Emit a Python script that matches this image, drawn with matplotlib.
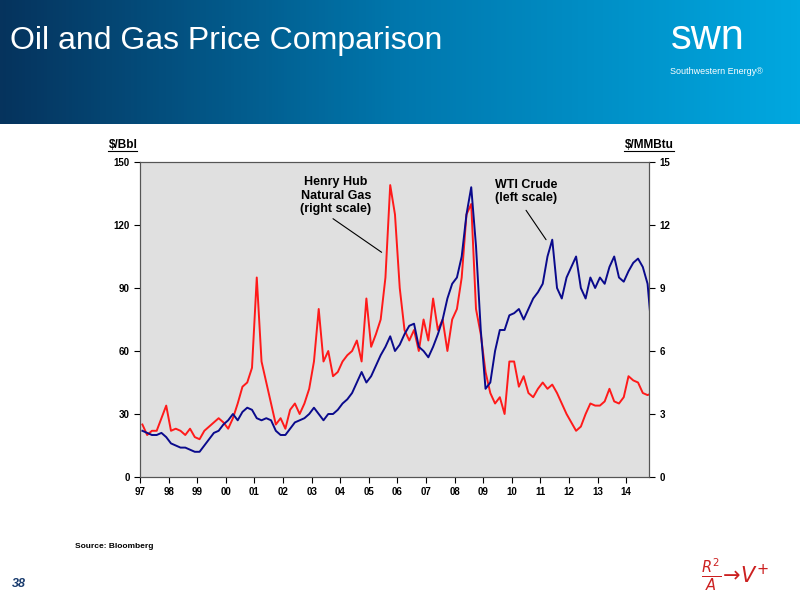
import numpy as np
import matplotlib
matplotlib.use("Agg")
import matplotlib.pyplot as plt
from matplotlib.colors import LinearSegmentedColormap

years = list(range(1997, 2015))
oil = [22,21,20,20,21,19, 16,15,14,14,13,12, 12,15,18,21,22,25,
       27,30,27,31,33,32, 28,27,28,27,22,20, 20,23,26,27,28,30,
       33,30,27,30,30,32, 35,37,40,45,50,45, 48,53,58,62,67,60,
       63,68,72,73,62,60, 57,62,68,75,85,92, 95,105,125,138,110,70,
       42,45,60,70,70,77, 78,80,75,80,85,88, 92,105,113,90,85,95,
       100,105,90,85,95,90, 95,92,100,105,95,93, 98,102,104,100,92,66]
gas = [2.5,2.0,2.2,2.2,2.8,3.4, 2.2,2.3,2.2,2.0,2.3,1.9, 1.8,2.2,2.4,2.6,2.8,2.6,
       2.3,2.8,3.5,4.3,4.5,5.2, 9.5,5.5,4.5,3.5,2.5,2.8, 2.3,3.2,3.5,3.0,3.5,4.2,
       5.5,8.0,5.5,6.0,4.8,5.0, 5.5,5.8,6.0,6.5,5.5,8.5, 6.2,6.8,7.5,9.5,13.9,12.5,
       9.0,7.0,6.5,7.0,6.0,7.5, 6.5,8.5,7.0,7.5,6.0,7.5, 8.0,9.5,12.5,13.0,8.0,6.8,
       5.0,4.0,3.5,3.8,3.0,5.5, 5.5,4.3,4.8,4.0,3.8,4.2, 4.5,4.2,4.4,4.0,3.5,3.0,
       2.6,2.2,2.4,3.0,3.5,3.4, 3.4,3.6,4.2,3.6,3.5,3.8, 4.8,4.6,4.5,4.0,3.9,4.0]
t = np.array([y + i / 6 + 1 / 12 for y in years for i in range(6)])
tick_labels = ["97","98","99","00","01","02","03","04","05","06","07","08","09","10","11","12","13","14"]

fig = plt.figure(figsize=(8, 6), dpi=100)
hax = fig.add_axes([0, 1 - 124/600, 1, 124/600])
cmap = LinearSegmentedColormap.from_list("h", ["#06335d", "#0077ad", "#00a8e0"])
hax.imshow(np.linspace(0, 1, 256)[None, :], aspect="auto", cmap=cmap, extent=[0, 1, 0, 1])
hax.set_axis_off()
fig.text(0.012, 1 - 41/600, "Oil and Gas Price Comparison", color="white", fontsize=23,
         family="Liberation Sans", va="center")
fig.text(0.838, 1 - 38/600, "swn", color="white", fontsize=30, family="Liberation Sans", va="center")
fig.text(0.838, 1 - 72/600, "Southwestern Energy®", color="white", fontsize=6.5, family="Liberation Sans", va="center")

ax = fig.add_axes([140/800, 1 - 477/600, 509/800, 315/600])
ax2 = ax.twinx()
ax.plot(t, oil, color="#0a0a8c", lw=1.4, zorder=3)
ax2.plot(t, gas, color="#ff1a1a", lw=1.4)
ax.set_zorder(ax2.get_zorder() + 1)
ax.patch.set_visible(False)
ax2.patch.set_visible(True)
ax2.patch.set_facecolor("#e0e0e0")
ax.set_xlim(1997, 2014.8)
ax.set_ylim(0, 150)
ax2.set_ylim(0, 15)
ax.set_yticks([0, 30, 60, 90, 120, 150])
ax2.set_yticks([0, 3, 6, 9, 12, 15])
ax.set_xticks(years)
ax.set_xticklabels(tick_labels)
for a in (ax, ax2):
    a.tick_params(labelsize=7, length=4, width=0.8, colors="black")
    for lab in a.get_xticklabels() + a.get_yticklabels():
        lab.set_fontweight("bold")
        lab.set_family("Liberation Sans")
    for s in a.spines.values():
        s.set_color("#555555")
ax.text(-0.005, 1.045, "$/Bbl", transform=ax.transAxes, ha="right", fontsize=8.5, fontweight="bold",
        family="Liberation Sans")
ax.text(1.0, 1.045, "$/MMBtu", transform=ax.transAxes, ha="center", fontsize=8.5, fontweight="bold",
        family="Liberation Sans")
# underlines
fig.add_artist(plt.Line2D([108/800, 137/800], [1 - 151/600] * 2, color="black", lw=0.8))
fig.add_artist(plt.Line2D([624/800, 674/800], [1 - 151/600] * 2, color="black", lw=0.8))
lbl = dict(ha="center", va="center", fontsize=9, fontweight="bold", family="Liberation Sans")
ax.text(2003.85, 134, "Henry Hub\nNatural Gas\n(right scale)", **lbl)
ax.annotate("", xy=(2005.45, 107), xytext=(2003.75, 123),
            arrowprops=dict(arrowstyle="-", color="black", lw=0.8, shrinkA=0, shrinkB=0))
ax.text(2010.5, 136, "WTI Crude\n(left scale)", **lbl)
ax.annotate("", xy=(2011.2, 113), xytext=(2010.5, 127),
            arrowprops=dict(arrowstyle="-", color="black", lw=0.8, shrinkA=0, shrinkB=0))

fig.text(75/800, 1 - 546/600, "Source: Bloomberg", fontsize=6, fontweight="bold", family="Liberation Sans", va="center")
fig.text(12/800, 1 - 584/600, "38", fontsize=9, fontweight="bold", style="italic", color="#1a3c6e",
         family="Liberation Sans", va="center")
fig.text(735/800, 1 - 575/600, r"$\frac{R^2}{A}\!\rightarrow\! V^{+}$", fontsize=15, color="#cc2020",
         va="center", ha="center")
fig.savefig("out.png", dpi=100)
